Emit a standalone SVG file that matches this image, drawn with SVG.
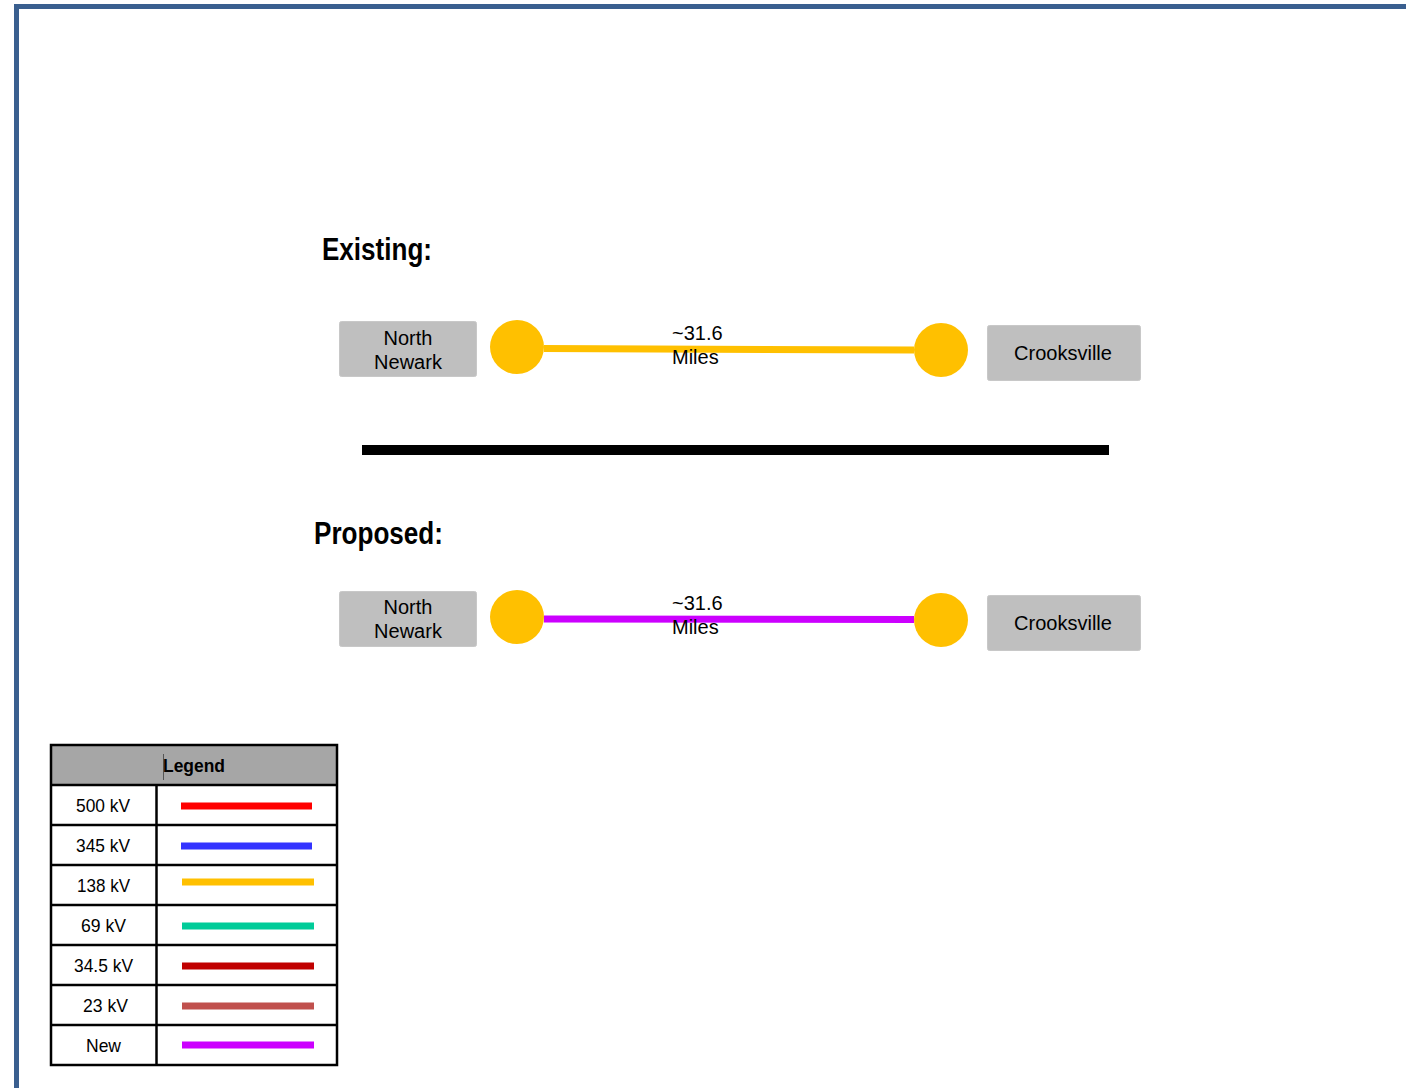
<svg xmlns="http://www.w3.org/2000/svg" width="1406" height="1088" viewBox="0 0 1406 1088">
<style>
.box{fill:#bfbfbf;stroke:#c8c8c8;stroke-width:1}
.lbl{font-family:"Liberation Sans",Arial,sans-serif;font-size:20px;fill:#000;text-anchor:middle}
.mi{font-family:"Liberation Sans",Arial,sans-serif;font-size:20px;fill:#000}
.ttl{font-family:"Liberation Sans",Arial,sans-serif;font-size:31px;font-weight:bold;fill:#000}
.bus{fill:#ffc000}
.lg{font-family:"Liberation Sans",Arial,sans-serif;font-size:19px;fill:#000;text-anchor:middle}
.cell{fill:none;stroke:#000;stroke-width:2.5}
</style>
<rect width="1406" height="1088" fill="#fff"/>
<path d="M16.5,1088 V6.5 H1406" fill="none" stroke="#3a5f8f" stroke-width="5"/>

<text class="ttl" x="322" y="260" textLength="110" lengthAdjust="spacingAndGlyphs">Existing:</text>
<text class="ttl" x="314" y="544" textLength="129" lengthAdjust="spacingAndGlyphs">Proposed:</text>

<g id="connectors">
<line x1="544" y1="348.5" x2="914" y2="350" stroke="#ffc000" stroke-width="7"/>
<line x1="544" y1="619" x2="914" y2="619.5" stroke="#cc00ff" stroke-width="7"/>
<rect x="362" y="445" width="747" height="10" fill="#000"/>
</g>

<g id="existing-north-newark">
<rect class="box" x="339.5" y="321.5" width="137" height="55" rx="2"/>
<text class="lbl" x="408" y="345">North</text>
<text class="lbl" x="408" y="369">Newark</text>
</g>
<g id="existing-crooksville">
<rect class="box" x="987.5" y="325.5" width="153" height="55" rx="2"/>
<text class="lbl" x="1063" y="360">Crooksville</text>
</g>
<g id="existing-bus-left"><circle class="bus" cx="517" cy="347" r="27"/></g>
<g id="existing-bus-right"><circle class="bus" cx="941" cy="350" r="27"/></g>
<g id="existing-label">
<text class="mi" x="672" y="340">~31.6</text>
<text class="mi" x="672" y="364">Miles</text>
</g>

<g id="proposed-north-newark">
<rect class="box" x="339.5" y="591.5" width="137" height="55" rx="2"/>
<text class="lbl" x="408" y="614">North</text>
<text class="lbl" x="408" y="638">Newark</text>
</g>
<g id="proposed-crooksville">
<rect class="box" x="987.5" y="595.5" width="153" height="55" rx="2"/>
<text class="lbl" x="1063" y="630">Crooksville</text>
</g>
<g id="proposed-bus-left"><circle class="bus" cx="517" cy="617" r="27"/></g>
<g id="proposed-bus-right"><circle class="bus" cx="941" cy="620" r="27"/></g>
<g id="proposed-label">
<text class="mi" x="672" y="610">~31.6</text>
<text class="mi" x="672" y="634">Miles</text>
</g>

<g id="legend">
<rect x="51" y="745" width="286" height="39" fill="#a6a6a6"/>
<line x1="163.5" y1="754" x2="163.5" y2="780" stroke="#555" stroke-width="1"/>
<text x="163" y="772" font-family="'Liberation Sans',Arial,sans-serif" font-size="19" font-weight="bold" fill="#000" textLength="62" lengthAdjust="spacingAndGlyphs">Legend</text>
<rect class="cell" x="51" y="745" width="286" height="320"/>
<g stroke="#000" stroke-width="2.5">
<line x1="51" y1="785" x2="337" y2="785"/>
<line x1="51" y1="825" x2="337" y2="825"/>
<line x1="51" y1="865" x2="337" y2="865"/>
<line x1="51" y1="905" x2="337" y2="905"/>
<line x1="51" y1="945" x2="337" y2="945"/>
<line x1="51" y1="985" x2="337" y2="985"/>
<line x1="51" y1="1025" x2="337" y2="1025"/>
<line x1="156.5" y1="785" x2="156.5" y2="1065"/>
</g>
<text class="lg" x="103" y="812" textLength="54" lengthAdjust="spacingAndGlyphs">500 kV</text>
<text class="lg" x="103" y="852" textLength="54" lengthAdjust="spacingAndGlyphs">345 kV</text>
<text class="lg" x="103.5" y="892" textLength="53" lengthAdjust="spacingAndGlyphs">138 kV</text>
<text class="lg" x="103.5" y="932" textLength="45" lengthAdjust="spacingAndGlyphs">69 kV</text>
<text class="lg" x="103.5" y="972" textLength="59" lengthAdjust="spacingAndGlyphs">34.5 kV</text>
<text class="lg" x="105.5" y="1012" textLength="45" lengthAdjust="spacingAndGlyphs">23 kV</text>
<text class="lg" x="103.5" y="1052" textLength="35" lengthAdjust="spacingAndGlyphs">New</text>
<line x1="181" y1="806" x2="312" y2="806" stroke="#ff0000" stroke-width="7"/>
<line x1="181" y1="846" x2="312" y2="846" stroke="#3333ff" stroke-width="7"/>
<line x1="182" y1="882" x2="314" y2="882" stroke="#ffc000" stroke-width="7"/>
<line x1="182" y1="926" x2="314" y2="926" stroke="#00cc99" stroke-width="7"/>
<line x1="182" y1="966" x2="314" y2="966" stroke="#c00000" stroke-width="7"/>
<line x1="182" y1="1006" x2="314" y2="1006" stroke="#c0504d" stroke-width="7"/>
<line x1="182" y1="1045" x2="314" y2="1045" stroke="#cc00ff" stroke-width="7"/>
</g>
</svg>
